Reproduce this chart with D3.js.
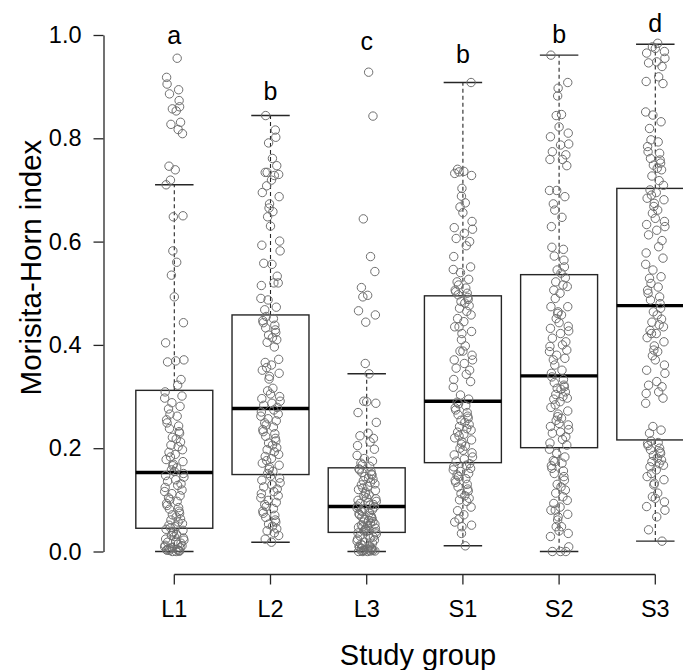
<!DOCTYPE html>
<html><head><meta charset="utf-8">
<script src="https://cdn.jsdelivr.net/npm/d3@7"></script>
<style>
body{margin:0;background:#fff}
svg{display:block;background:#fff}
text{font-family:"Liberation Sans",Arial,sans-serif}
</style>
</head><body>
<svg id="chart" width="683" height="670"></svg>
<script>
// ---------- data ----------
const groups = ["L1", "L2", "L3", "S1", "S2", "S3"];
const letters = ["a", "b", "c", "b", "b", "d"];
const letterY = [0.983, 0.874, 0.971, 0.946, 0.984, 1.006];
const yTicks = [0.0, 0.2, 0.4, 0.6, 0.8, 1.0];

const q1 = [0.045, 0.149, 0.037, 0.172, 0.201, 0.216];
const med = [0.153, 0.277, 0.087, 0.291, 0.340, 0.476];
const q3 = [0.312, 0.458, 0.162, 0.495, 0.536, 0.703];
const whiskLo = [0.000, 0.018, 0.000, 0.011, 0.000, 0.020];
const whiskHi = [0.710, 0.844, 0.344, 0.908, 0.961, 0.982];

const ptsL1 = [0.955, 0.918, 0.905, 0.894, 0.886, 0.873, 0.861, 0.857, 0.853, 0.831, 0.827, 0.817, 0.809, 0.746, 0.739, 0.719, 0.710, 0.650, 0.648, 0.582, 0.560, 0.535, 0.493, 0.443, 0.404, 0.371, 0.369, 0.367, 0.333, 0.322,
  0.309, 0.301, 0.297, 0.288, 0.281, 0.276, 0.266, 0.262, 0.255, 0.249, 0.243, 0.238, 0.232, 0.229, 0.221, 0.218, 0.212, 0.206, 0.203, 0.197, 0.192, 0.188, 0.183, 0.178, 0.174, 0.169, 0.166, 0.162, 0.158, 0.155,
  0.151, 0.147, 0.144, 0.139, 0.136, 0.131, 0.128, 0.124, 0.119, 0.116, 0.112, 0.108, 0.104, 0.101, 0.097, 0.093, 0.089, 0.085, 0.082, 0.078, 0.074, 0.071, 0.067, 0.063, 0.061, 0.057, 0.054, 0.051, 0.048, 0.046,
  0.043, 0.041, 0.038, 0.036, 0.033, 0.031, 0.029, 0.026, 0.024, 0.022, 0.020, 0.018, 0.016, 0.014, 0.012, 0.011, 0.009, 0.008, 0.007, 0.006, 0.005, 0.004, 0.003, 0.003, 0.002, 0.002, 0.001, 0.001, 0.000, 0.000];

const ptsL2 = [0.844, 0.816, 0.802, 0.791, 0.761, 0.747, 0.734, 0.728, 0.730, 0.734, 0.719, 0.708, 0.695, 0.687, 0.673, 0.665, 0.658, 0.648, 0.630, 0.601, 0.593, 0.582, 0.556, 0.558, 0.533, 0.520, 0.515, 0.520, 0.490, 0.487, 0.473, 0.468,
  0.455, 0.451, 0.447, 0.443, 0.438, 0.433, 0.429, 0.424, 0.419, 0.414, 0.410, 0.405, 0.396, 0.372, 0.366, 0.361, 0.356, 0.351, 0.345, 0.339, 0.334, 0.316, 0.311, 0.305, 0.300, 0.296, 0.291, 0.287, 0.283, 0.279,
  0.274, 0.270, 0.266, 0.262, 0.257, 0.253, 0.249, 0.245, 0.241, 0.236, 0.232, 0.228, 0.223, 0.219, 0.214, 0.210, 0.206, 0.201, 0.197, 0.193, 0.188, 0.184, 0.180, 0.176, 0.171, 0.167, 0.163, 0.159, 0.155, 0.151,
  0.146, 0.142, 0.138, 0.133, 0.129, 0.125, 0.121, 0.116, 0.112, 0.108, 0.104, 0.099, 0.095, 0.091, 0.087, 0.083, 0.078, 0.074, 0.070, 0.066, 0.061, 0.057, 0.053, 0.049, 0.044, 0.040, 0.036, 0.031, 0.024, 0.018];

const ptsL3 = [0.928, 0.843, 0.644, 0.571, 0.542, 0.511, 0.496, 0.493, 0.466, 0.458, 0.444, 0.364, 0.344, 0.291, 0.290, 0.287, 0.269, 0.250, 0.229, 0.224, 0.219, 0.212, 0.205, 0.198, 0.186, 0.180, 0.175, 0.171, 0.168, 0.165,
  0.160, 0.158, 0.155, 0.153, 0.150, 0.148, 0.145, 0.142, 0.140, 0.137, 0.134, 0.131, 0.129, 0.126, 0.123, 0.120, 0.118, 0.115, 0.112, 0.110, 0.107, 0.104, 0.102, 0.099, 0.097, 0.095, 0.093, 0.091, 0.090, 0.088,
  0.086, 0.084, 0.082, 0.081, 0.079, 0.077, 0.075, 0.073, 0.071, 0.069, 0.067, 0.066, 0.064, 0.062, 0.060, 0.058, 0.057, 0.055, 0.053, 0.051, 0.050, 0.048, 0.047, 0.045, 0.044, 0.042, 0.041, 0.040, 0.039, 0.038,
  0.036, 0.034, 0.032, 0.030, 0.028, 0.026, 0.024, 0.022, 0.020, 0.018, 0.016, 0.014, 0.012, 0.011, 0.010, 0.008, 0.007, 0.006, 0.005, 0.004, 0.003, 0.003, 0.002, 0.002, 0.001, 0.001, 0.001, 0.000, 0.000, 0.000];

const ptsS1 = [0.908, 0.740, 0.736, 0.735, 0.732, 0.728, 0.703, 0.688, 0.675, 0.667, 0.656, 0.639, 0.627, 0.624, 0.616, 0.606, 0.600, 0.592, 0.571, 0.551, 0.546, 0.540, 0.527, 0.522, 0.516, 0.510, 0.506, 0.503, 0.500, 0.497,
  0.492, 0.488, 0.484, 0.481, 0.476, 0.471, 0.465, 0.458, 0.451, 0.445, 0.435, 0.435, 0.426, 0.422, 0.410, 0.398, 0.388, 0.388, 0.380, 0.371, 0.371, 0.364, 0.355, 0.351, 0.343, 0.333, 0.329, 0.318, 0.303, 0.295,
  0.289, 0.286, 0.282, 0.278, 0.274, 0.269, 0.265, 0.262, 0.258, 0.254, 0.250, 0.246, 0.242, 0.238, 0.235, 0.231, 0.227, 0.224, 0.220, 0.216, 0.212, 0.208, 0.204, 0.200, 0.196, 0.191, 0.187, 0.183, 0.179, 0.175,
  0.170, 0.167, 0.164, 0.161, 0.158, 0.155, 0.151, 0.148, 0.145, 0.141, 0.138, 0.134, 0.130, 0.125, 0.121, 0.117, 0.112, 0.108, 0.103, 0.100, 0.097, 0.086, 0.079, 0.071, 0.063, 0.057, 0.051, 0.048, 0.035, 0.011];

const ptsS2 = [0.961, 0.908, 0.897, 0.882, 0.846, 0.844, 0.822, 0.810, 0.803, 0.789, 0.787, 0.774, 0.768, 0.759, 0.759, 0.747, 0.699, 0.699, 0.687, 0.673, 0.661, 0.647, 0.629, 0.589, 0.585, 0.572, 0.564, 0.551, 0.545, 0.539,
  0.530, 0.522, 0.516, 0.513, 0.506, 0.500, 0.490, 0.474, 0.474, 0.464, 0.461, 0.458, 0.451, 0.443, 0.436, 0.432, 0.427, 0.422, 0.413, 0.406, 0.400, 0.397, 0.390, 0.387, 0.380, 0.374, 0.371, 0.361, 0.351, 0.345,
  0.338, 0.333, 0.327, 0.322, 0.319, 0.316, 0.314, 0.309, 0.304, 0.300, 0.297, 0.295, 0.290, 0.284, 0.279, 0.272, 0.266, 0.261, 0.258, 0.254, 0.248, 0.245, 0.242, 0.236, 0.231, 0.229, 0.222, 0.217, 0.210, 0.206,
  0.198, 0.190, 0.183, 0.176, 0.174, 0.171, 0.166, 0.161, 0.156, 0.151, 0.145, 0.138, 0.130, 0.125, 0.119, 0.113, 0.106, 0.099, 0.093, 0.086, 0.080, 0.080, 0.072, 0.067, 0.061, 0.048, 0.048, 0.040, 0.035, 0.029, 0.009, 0.000, 0.000, 0.000];

const ptsS3 = [0.984, 0.977, 0.974, 0.968, 0.965, 0.955, 0.948, 0.946, 0.939, 0.919, 0.910, 0.906, 0.851, 0.845, 0.832, 0.819, 0.797, 0.793, 0.784, 0.774, 0.771, 0.761, 0.758, 0.752, 0.748, 0.742, 0.739, 0.727, 0.718, 0.709,
  0.700, 0.695, 0.690, 0.684, 0.681, 0.674, 0.668, 0.661, 0.655, 0.645, 0.639, 0.633, 0.629, 0.622, 0.613, 0.602, 0.590, 0.578, 0.568, 0.556, 0.545, 0.532, 0.529, 0.519, 0.512, 0.506, 0.500, 0.493, 0.487, 0.480,
  0.471, 0.464, 0.458, 0.450, 0.444, 0.439, 0.435, 0.428, 0.422, 0.422, 0.414, 0.406, 0.398, 0.390, 0.387, 0.379, 0.371, 0.361, 0.351, 0.345, 0.329, 0.322, 0.319, 0.309, 0.306, 0.297, 0.287, 0.242, 0.235, 0.229,
  0.214, 0.211, 0.209, 0.205, 0.200, 0.197, 0.193, 0.190, 0.186, 0.181, 0.177, 0.174, 0.170, 0.167, 0.164, 0.158, 0.151, 0.145, 0.139, 0.132, 0.129, 0.113, 0.106, 0.103, 0.096, 0.087, 0.080, 0.067, 0.042, 0.020];

// hand-set horizontal jitter offsets (fraction of group spacing)
const jitter = [0.03, -0.07, 0.09, -0.02, 0.06, -0.09, 0.01, -0.05, 0.08, -0.03, 0.04, -0.08, 0.07, -0.01, 0.02, -0.06, 0.10, -0.04, 0.05, -0.10,
  0.00, 0.085, -0.075, 0.035, -0.015, 0.065, -0.045, 0.015, -0.085, 0.055, -0.025, 0.095, -0.055, 0.045, -0.095, 0.025, -0.035];

const points = [ptsL1, ptsL2, ptsL3, ptsS1, ptsS2, ptsS3];

// ---------- chart ----------
const svg = d3.select("#chart");
const x = d3.scaleBand().domain(groups).range([126.2, 703.4]).padding(0);
const cx = g => x(g) + x.bandwidth() / 2;
const y = d3.scaleLinear().domain([0, 1]).range([551.5, 35]);
const boxW = x.step() * 0.8;
const capW = boxW * 0.5;
const ink = "#262626";

// boxes
const bg = svg.append("g");
groups.forEach((g, i) => {
  const c = cx(g);
  bg.append("line").attr("x1", c).attr("x2", c).attr("y1", y(q3[i])).attr("y2", y(whiskHi[i]))
    .attr("stroke", ink).attr("stroke-width", 1.1).attr("stroke-dasharray", "4,3");
  bg.append("line").attr("x1", c).attr("x2", c).attr("y1", y(q1[i])).attr("y2", y(whiskLo[i]))
    .attr("stroke", ink).attr("stroke-width", 1.1).attr("stroke-dasharray", "4,3");
  [whiskHi[i], whiskLo[i]].forEach(v => {
    bg.append("line").attr("x1", c - capW / 2).attr("x2", c + capW / 2).attr("y1", y(v)).attr("y2", y(v))
      .attr("stroke", ink).attr("stroke-width", 1.4);
  });
  bg.append("rect").attr("x", c - boxW / 2).attr("width", boxW)
    .attr("y", y(q3[i])).attr("height", y(q1[i]) - y(q3[i]))
    .attr("fill", "none").attr("stroke", ink).attr("stroke-width", 1.4);
  bg.append("line").attr("x1", c - boxW / 2).attr("x2", c + boxW / 2).attr("y1", y(med[i])).attr("y2", y(med[i]))
    .attr("stroke", "#000").attr("stroke-width", 3.4);
});

// jittered points
const pg = svg.append("g");
groups.forEach((g, gi) => {
  points[gi].forEach((v, i) => {
    const off = jitter[(i * 11 + gi * 7) % jitter.length];
    pg.append("circle")
      .attr("cx", cx(g) + off * x.step())
      .attr("cy", y(v))
      .attr("r", 4.2)
      .attr("fill", "none")
      .attr("stroke", "#6f6f6f")
      .attr("stroke-width", 1);
  });
});

// group letters
groups.forEach((g, i) => {
  svg.append("text").attr("x", cx(g)).attr("y", y(letterY[i]))
    .attr("text-anchor", "middle").attr("font-size", 25).attr("fill", "#000").text(letters[i]);
});

// y axis
const ya = svg.append("g").attr("transform", "translate(103.5,0)")
  .call(d3.axisLeft(y).tickValues(yTicks).tickFormat(d3.format(".1f")).tickSize(10).tickSizeOuter(0).tickPadding(12));
ya.selectAll("path,line").attr("stroke", ink).attr("stroke-width", 1.3);
ya.selectAll("text").attr("font-size", 23.5).attr("font-family", "Liberation Sans, Arial, sans-serif").attr("fill", "#000");

// x axis
const xa = svg.append("g").attr("transform", "translate(0,574.5)")
  .call(d3.axisBottom(x).tickSize(10).tickSizeOuter(0).tickPadding(16));
xa.select(".domain").remove();
xa.append("line").attr("x1", cx(groups[0])).attr("x2", cx(groups[groups.length - 1]))
  .attr("y1", 0).attr("y2", 0).attr("stroke", ink).attr("stroke-width", 1.3);
xa.selectAll("line").attr("stroke", ink).attr("stroke-width", 1.3);
xa.selectAll("text").attr("font-size", 23.5).attr("font-family", "Liberation Sans, Arial, sans-serif").attr("fill", "#000");

// axis titles
svg.append("text").attr("transform", "translate(41,267.5) rotate(-90)")
  .attr("text-anchor", "middle").attr("font-size", 29.5).attr("fill", "#000").text("Morisita-Horn index");
svg.append("text").attr("x", 418).attr("y", 665)
  .attr("text-anchor", "middle").attr("font-size", 29).attr("fill", "#000").text("Study group");
</script>
</body></html>
